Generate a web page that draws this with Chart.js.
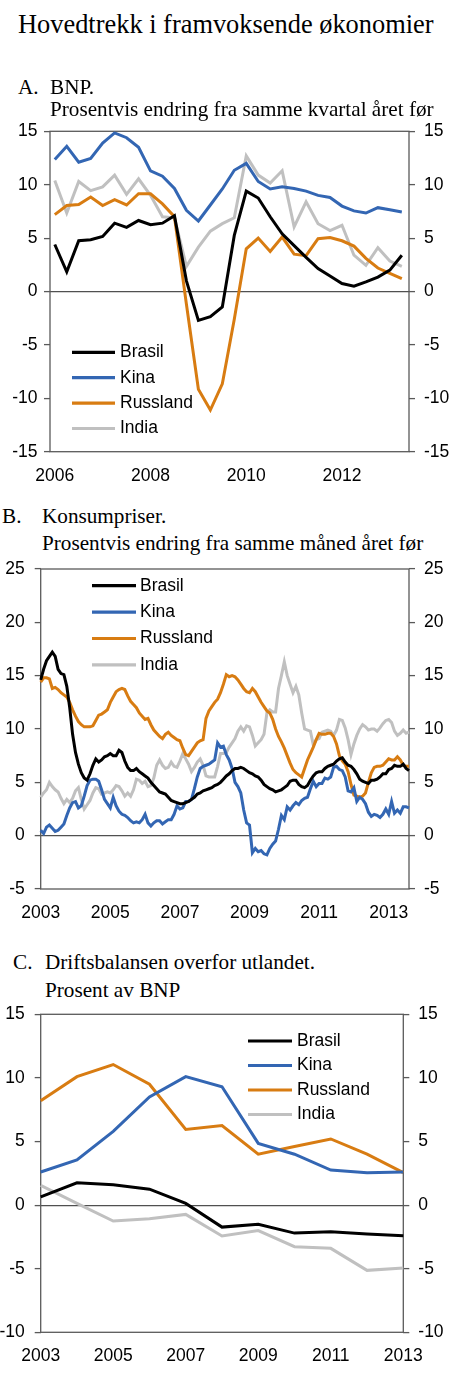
<!DOCTYPE html>
<html>
<head>
<meta charset="utf-8">
<script src="https://cdn.jsdelivr.net/npm/chart.js@4.4.1/dist/chart.umd.min.js"></script>
<style>
body { margin: 0; background: #fff; width: 450px; height: 1376px; position: relative; overflow: hidden; }
.t { position: absolute; font-family: "Liberation Serif", "Times New Roman", serif; color: #000; white-space: nowrap; line-height: 1; z-index: 2; }
canvas { position: absolute; left: 0; }
</style>
</head>
<body>
<div class="t" style="left:18px;top:11px;font-size:26.4px">Hovedtrekk i framvoksende økonomier</div>

<div class="t" style="left:18px;top:76.5px;font-size:21.2px">A.</div>
<div class="t" style="left:50px;top:76.5px;font-size:21.2px">BNP.</div>
<div class="t" style="left:50px;top:98.5px;font-size:21.2px">Prosentvis endring fra samme kvartal året før</div>

<div class="t" style="left:2px;top:506px;font-size:21.2px">B.</div>
<div class="t" style="left:42px;top:506px;font-size:21.2px">Konsumpriser.</div>
<div class="t" style="left:42px;top:533px;font-size:21.2px">Prosentvis endring fra samme måned året før</div>

<div class="t" style="left:13px;top:952px;font-size:21.2px">C.</div>
<div class="t" style="left:45px;top:952px;font-size:21.2px">Driftsbalansen overfor utlandet.</div>
<div class="t" style="left:45px;top:980px;font-size:21.2px">Prosent av BNP</div>

<canvas id="figA" width="450" height="370" style="top:120px"></canvas>
<canvas id="figB" width="450" height="370" style="top:560px"></canvas>
<canvas id="figC" width="450" height="372" style="top:1004px"></canvas>

<script>
// serier og farger
const land = ['Brasil', 'Kina', 'Russland', 'India'];
const farger = ['#000000', '#3366b3', '#d87c12', '#c0c0c0'];

// A. BNP, kvartal 2006K1 - 2013K2
const startA = 2006;
const antallA = 30;
const brasilA = [4.4, 1.85, 4.75, 4.85, 5.15, 6.4, 6.0, 6.65, 6.25, 6.4, 7.1, 1.0, -2.7, -2.35, -1.45, 5.25,
    9.4, 8.75, 7.0, 5.4, 4.3, 3.2, 2.15, 1.45, 0.75, 0.5, 0.9, 1.35, 2.0, 3.4];
const kinaA = [12.35, 13.6, 12.1, 12.45, 13.9, 14.85, 14.4, 13.5, 11.3, 10.8, 9.65, 7.6, 6.6, 8.1, 9.6, 11.35,
    12.0, 10.3, 9.6, 9.8, 9.65, 9.4, 9.0, 8.8, 8.0, 7.55, 7.35, 7.85, 7.65, 7.45];
const russlandA = [7.2, 8.05, 8.15, 8.85, 8.05, 8.6, 8.1, 9.15, 9.15, 8.2, 7.0, -1.2, -9.15, -11.1, -8.65, -2.6,
    4.0, 5.0, 3.75, 5.1, 3.5, 3.35, 4.95, 5.05, 4.75, 4.25, 3.1, 2.2, 1.7, 1.2];
const indiaA = [10.4, 7.35, 10.3, 9.45, 9.8, 10.9, 9.1, 10.55, 9.0, 7.0, 6.9, 2.35, 4.15, 5.65, 6.35, 6.9,
    12.7, 10.9, 10.15, 11.3, 6.05, 8.4, 6.35, 5.7, 6.2, 3.4, 2.45, 4.1, 2.85, 2.35];
const aarA = [2006, 2008, 2010, 2012];

// B. Konsumpriser, måned 2003M1 - 2013M8
const startB = 2003;
const antallB = 128;
const brasilB = [
    14.6, 15.6, 16.4, 16.8, 17.2, 16.8, 15.6, 15.2, 15.1, 14.0, 12.0, 9.5,
    7.8, 6.7, 5.9, 5.4, 5.2, 5.8, 6.6, 7.2, 6.9, 7.1, 7.4, 7.5,
    7.7, 7.5, 7.5, 8.0, 7.8, 7.0, 6.4, 6.1, 6.1, 6.3, 6.0, 5.8,
    5.6, 5.4, 5.0, 4.7, 4.4, 4.1, 4.0, 3.9, 3.6, 3.3, 3.2, 3.1,
    3.0, 3.0, 3.1, 3.2, 3.4, 3.6, 3.9, 4.0, 4.2, 4.3, 4.4, 4.5,
    4.7, 4.8, 5.0, 5.3, 5.6, 5.8, 6.1, 6.3, 6.3, 6.4, 6.3, 6.1,
    5.9, 5.8, 5.6, 5.5, 5.2, 4.8, 4.6, 4.4, 4.3, 4.1, 4.2, 4.3,
    4.5, 4.7, 5.1, 5.2, 5.2, 4.8, 4.6, 4.5, 4.7, 5.2, 5.6, 5.9,
    6.0, 6.0, 6.3, 6.5, 6.6, 6.7, 7.0, 7.2, 7.3, 6.9, 6.6, 6.5,
    6.2, 5.8, 5.3, 5.1, 5.0, 4.9, 5.2, 5.2, 5.3, 5.5, 5.8, 5.8,
    6.2, 6.3, 6.6, 6.5, 6.5, 6.7, 6.3, 6.1];
const kinaB = [
    0.5, 0.2, 0.8, 1.0, 0.7, 0.4, 0.5, 0.8, 1.1, 1.9, 2.6, 3.1,
    3.2, 2.6, 2.8, 3.7, 4.7, 5.2, 5.3, 5.3, 5.1, 4.3, 3.4, 3.0,
    2.6, 3.6, 2.8, 2.3, 2.0, 1.9, 1.7, 1.4, 1.2, 1.3, 1.2, 1.5,
    2.0, 1.2, 0.9, 1.2, 1.4, 1.4, 1.1, 1.3, 1.5, 1.5, 2.0, 2.8,
    2.5, 2.6, 3.2, 3.2, 3.4, 4.4, 5.5, 6.3, 6.5, 6.6, 6.7, 6.9,
    7.1, 8.7, 8.3, 8.4, 7.6, 7.1, 6.3, 5.0, 4.6, 4.0, 2.4, 1.2,
    1.0, -1.6, -1.2, -1.5, -1.4, -1.7, -1.8, -1.2, -0.8, -0.5, 0.6, 1.9,
    1.5, 2.7, 2.4, 2.8, 3.1, 2.9, 3.3, 3.5, 3.6, 4.4, 5.1, 4.6,
    4.9, 4.9, 5.4, 5.3, 5.5, 6.4, 6.5, 6.2, 6.1, 5.5, 4.2, 4.1,
    4.5, 3.2, 3.6, 3.4, 3.0, 2.2, 1.8, 2.0, 1.9, 1.7, 2.0, 2.5,
    2.0, 3.2, 2.1, 2.4, 2.1, 2.7, 2.7, 2.6];
const russlandB = [
    14.4, 14.8, 14.8, 14.7, 13.8, 13.9, 13.7, 13.4, 13.2, 13.0, 12.5, 11.8,
    11.2, 10.7, 10.4, 10.2, 10.2, 10.2, 10.3, 10.8, 11.3, 11.4, 11.6, 11.8,
    12.5, 13.0, 13.5, 13.7, 13.8, 13.7, 13.1, 12.6, 12.3, 12.0, 11.5, 11.2,
    10.9, 11.0, 10.4, 9.9, 9.6, 9.3, 9.1, 9.5, 9.7, 9.4, 9.2, 9.0,
    8.9, 8.2, 7.6, 7.5, 7.9, 8.3, 8.7, 8.9, 9.0, 11.0, 11.7, 12.1,
    12.5, 12.8, 13.4, 14.2, 15.1, 14.9, 15.0, 14.9, 14.6, 14.2, 13.8, 13.5,
    13.4, 13.8, 13.5, 13.0, 12.5, 12.1, 11.7, 11.5, 10.9, 10.0, 9.3, 8.8,
    8.2, 7.5, 6.8, 6.2, 5.9, 5.7, 5.5, 6.3, 7.1, 7.7, 8.3, 9.0,
    9.6, 9.5, 9.5, 9.6, 9.6, 9.3, 8.6, 7.5, 7.0, 6.7, 6.0, 4.8,
    3.8, 3.7, 3.6, 3.7, 4.0, 5.0, 5.9, 6.4, 6.5, 6.5, 6.6, 6.9,
    7.2, 7.1, 7.1, 7.4, 7.1, 6.6, 6.5, 6.5];
const indiaB = [
    3.6, 4.0, 4.3, 5.0, 4.6, 4.3, 4.1, 3.5, 3.0, 3.4, 3.1, 3.5,
    4.2, 4.5, 3.4, 2.5, 2.9, 3.3, 4.0, 4.5, 4.4, 3.9, 4.0, 4.1,
    4.0, 4.3, 4.7, 4.6, 4.2, 3.7, 4.0, 3.7, 4.3, 5.3, 5.2, 4.9,
    5.1, 4.6, 4.7, 5.4, 6.6, 7.1, 6.6, 6.3, 6.4, 6.9, 6.5, 6.4,
    7.0, 7.7, 7.2, 6.7, 6.0, 6.4, 6.9, 7.2, 6.6, 5.6, 5.5, 5.5,
    5.5, 6.5, 7.7, 7.7, 7.8, 8.3, 8.7, 9.1, 9.8, 10.2, 9.8, 10.3,
    10.2, 9.4, 8.4, 8.7, 9.0, 9.5, 11.5, 11.8, 11.6, 11.6, 13.8, 15.0,
    16.3, 15.0, 14.2, 13.4, 14.0, 13.2, 11.5, 10.0, 9.9, 9.8, 8.5, 9.0,
    9.1, 9.7, 9.8, 9.9, 9.8, 9.4, 9.9, 10.9, 10.8, 10.1, 9.0, 7.6,
    8.6, 9.4, 10.0, 10.4, 10.2, 9.9, 10.0, 10.0, 9.8, 10.1, 10.5, 10.8,
    10.9, 10.6, 9.8, 9.4, 9.6, 9.9, 9.6, 9.7];
const aarB = [2003, 2005, 2007, 2009, 2011, 2013];

// C. Driftsbalansen, år 2003 - 2013
const aarC = ['2003', '2004', '2005', '2006', '2007', '2008', '2009', '2010', '2011', '2012', '2013'];
const brasilC = [0.65, 1.75, 1.6, 1.25, 0.13, -1.73, -1.5, -2.2, -2.1, -2.28, -2.4];
const kinaC = [2.6, 3.55, 5.8, 8.5, 10.1, 9.3, 4.85, 4.0, 2.75, 2.55, 2.6];
const russlandC = [8.2, 10.1, 11.05, 9.5, 5.95, 6.25, 4.0, 4.6, 5.2, 4.0, 2.55];
const indiaC = [1.55, 0.13, -1.25, -1.07, -0.73, -2.43, -2.0, -3.27, -3.4, -5.13, -4.95];

// tidsakser
const kvartalA = [];
for (let i = 0; i < antallA; i++) kvartalA.push(startA + Math.floor(i / 4) + 'K' + (i % 4 + 1));
const mndB = [];
for (let i = 0; i < antallB; i++) {
    const m = i % 12 + 1;
    mndB.push((startB + Math.floor(i / 12)) + '-' + (m < 10 ? '0' + m : m));
}
const kvartalTilTall = k => +k.slice(0, 4) + (+k.slice(5) - 1) / 4;

Chart.defaults.font.family = '"Liberation Sans", Arial, sans-serif';
Chart.defaults.color = '#000';
const strek = '#5a5a5a';
const tickFont = { size: 17.5 };

const ramme = {
    id: 'ramme',
    beforeDatasetsDraw(chart) {
        const { ctx, chartArea: a } = chart;
        ctx.save();
        ctx.strokeStyle = strek;
        ctx.lineWidth = 1.3;
        ctx.strokeRect(a.left, a.top, a.right - a.left, a.bottom - a.top);
        ctx.restore();
    }
};

const tegnforklaring = {
    id: 'tegnforklaring',
    afterDraw(chart, args, opts) {
        const { ctx, chartArea: a } = chart;
        ctx.save();
        ctx.font = '17.5px "Liberation Sans", Arial, sans-serif';
        ctx.textBaseline = 'middle';
        ctx.fillStyle = '#000';
        chart.data.datasets.forEach((ds, i) => {
            const y = a.top + opts.y0 + i * opts.dy;
            ctx.strokeStyle = ds.borderColor;
            ctx.lineWidth = 3.2;
            ctx.beginPath();
            ctx.moveTo(opts.x0, y);
            ctx.lineTo(opts.x1, y);
            ctx.stroke();
            ctx.fillText(ds.label, opts.tx, y);
        });
        ctx.restore();
    }
};

function lagFigur(id, labels, serier, xAkse, ymin, ymax, mal, forkl) {
    const yAkse = (pos, bredde, pad) => ({
        position: pos,
        min: ymin,
        max: ymax,
        ticks: { stepSize: 5, font: tickFont, padding: pad, color: '#000' },
        grid: {
            drawOnChartArea: pos === 'left',
            color: c => (c.tick && c.tick.value === 0 ? '#505050' : 'rgba(0,0,0,0)'),
            lineWidth: 1.2,
            drawTicks: true,
            tickLength: 6,
            tickColor: strek,
            tickWidth: 1.3
        },
        border: { display: false },
        afterFit: s => { s.width = bredde; s.paddingTop = 0; s.paddingBottom = 0; }
    });
    return new Chart(document.getElementById(id), {
        type: 'line',
        data: {
            labels: labels,
            datasets: serier.map((d, i) => ({
                label: land[i],
                data: d,
                borderColor: farger[i],
                backgroundColor: farger[i],
                borderWidth: 3,
                pointRadius: 0,
                tension: 0,
                fill: false
            }))
        },
        options: {
            responsive: false,
            animation: false,
            layout: { padding: { top: mal.top, left: 0, right: 0, bottom: 0 } },
            scales: {
                x: Object.assign({
                    grid: { display: false },
                    border: { display: false },
                    afterFit: s => { s.height = mal.bunn; s.paddingLeft = 0; s.paddingRight = 0; }
                }, xAkse),
                y: yAkse('left', mal.venstre, mal.padV),
                y2: yAkse('right', mal.hoyre, mal.padH)
            },
            plugins: {
                legend: { display: false },
                tooltip: { enabled: false },
                tegnforklaring: forkl
            }
        },
        plugins: [ramme, tegnforklaring]
    });
}

// A
lagFigur('figA', null,
    [brasilA, kinaA, russlandA, indiaA].map(s => s.map((v, i) => ({ x: kvartalTilTall(kvartalA[i]), y: v }))),
    {
        type: 'linear',
        min: 2005.9,
        max: 2013.4,
        afterBuildTicks: s => { s.ticks = aarA.map(v => ({ value: v })); },
        ticks: { font: tickFont, padding: 5.5, maxRotation: 0, callback: v => String(v) }
    },
    -15, 15,
    { top: 11.3, bunn: 38.3, venstre: 50, hoyre: 41, padV: 6.5, padH: 9 },
    { x0: 72, x1: 115, tx: 120, y0: 221, dy: 25.4 });

// B
lagFigur('figB', mndB, [brasilB, kinaB, russlandB, indiaB],
    {
        type: 'category',
        offset: false,
        ticks: {
            font: tickFont, padding: 5.5, maxRotation: 0, autoSkip: false,
            callback: (v, i) => {
                const l = mndB[i];
                return l.endsWith('-01') && aarB.includes(+l.slice(0, 4)) ? l.slice(0, 4) : '';
            }
        }
    },
    -5, 25,
    { top: 9, bunn: 41, venstre: 40.7, hoyre: 41, padV: 10, padH: 9 },
    { x0: 92, x1: 136, tx: 140, y0: 16.7, dy: 26.4 });

// C
lagFigur('figC', aarC, [brasilC, kinaC, russlandC, indiaC],
    {
        type: 'category',
        offset: false,
        ticks: {
            font: tickFont, padding: 5.5, maxRotation: 0, autoSkip: false,
            callback: (v, i) => (i % 2 === 0 ? aarC[i] : '')
        }
    },
    -10, 15,
    { top: 10.3, bunn: 43.7, venstre: 40.7, hoyre: 46.7, padV: 10, padH: 9 },
    { x0: 248, x1: 292, tx: 297, y0: 26.7, dy: 24.5 });
</script>
</body>
</html>
